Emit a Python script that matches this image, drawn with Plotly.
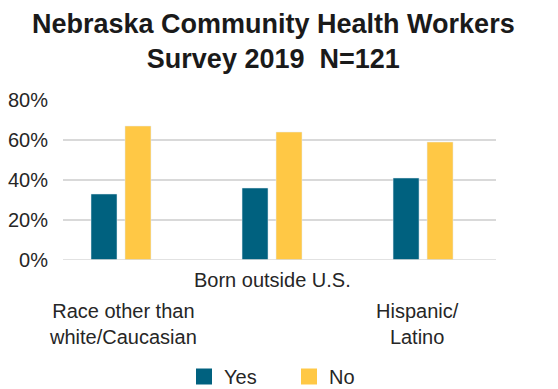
import plotly.graph_objects as go

categories = ["Race other than white/Caucasian", "Born outside U.S.", "Hispanic/ Latino"]
category_labels = ["Race other than<br>white/Caucasian", "Born outside U.S.", "Hispanic/<br>Latino"]
yes_values = [33, 36, 41]
no_values = [67, 64, 59]
y_ticks = [0, 20, 40, 60, 80]
y_tick_labels = ["0%", "20%", "40%", "60%", "80%"]
title_text = "<b>Nebraska Community Health Workers<br>Survey 2019  N=121</b>"

YES_COLOR = "#00617F"
NO_COLOR = "#FFC845"
FONT = "Liberation Sans, Arial, sans-serif"
TXT = "#262626"

fig = go.Figure()
fig.add_trace(go.Bar(x=categories, y=yes_values, name="Yes", marker_color=YES_COLOR,
                     showlegend=False))
fig.add_trace(go.Bar(x=categories, y=no_values, name="No", marker_color=NO_COLOR,
                     showlegend=False))
# legend proxies
fig.add_trace(go.Scatter(x=[None], y=[None], mode="markers", name="Yes",
                         marker=dict(symbol="square", size=16, color=YES_COLOR)))
fig.add_trace(go.Scatter(x=[None], y=[None], mode="markers", name="No",
                         marker=dict(symbol="square", size=16, color=NO_COLOR)))

annotations = []
ypos = [-0.40, -0.125, -0.40]
xshift = [2, 0, -6]
for i, lab in enumerate(category_labels):
    annotations.append(dict(x=categories[i], y=ypos[i], xref="x", yref="paper",
                            text=lab, showarrow=False, yanchor="middle",
                            xshift=xshift[i],
                            font=dict(family=FONT, size=20, color=TXT)))
annotations.append(dict(x=(273 - 63) / 433, y=1 + (100 - 7) / 160, xref="paper", yref="paper",
                        text=title_text, showarrow=False, xanchor="center", yanchor="top",
                        font=dict(family=FONT, size=27, color="#1a1a1a")))

fig.update_layout(
    width=558, height=389,
    margin=dict(l=63, r=62, t=100, b=129, autoexpand=False),
    paper_bgcolor="white", plot_bgcolor="white",
    font=dict(family=FONT, size=20, color=TXT),
    barmode="group", bargap=0.55, bargroupgap=0.235,
    xaxis=dict(range=[-0.384, 2.483], showticklabels=False, showgrid=False,
               zeroline=False, showline=False, ticks="", automargin=False),
    yaxis=dict(range=[0, 80], tickvals=y_ticks, ticktext=y_tick_labels,
               showgrid=True, gridcolor="#d9d9d9", gridwidth=1.5, automargin=False,
               zeroline=False, showline=False, ticks="", ticklabelstandoff=14,
               tickfont=dict(family=FONT, size=20, color=TXT)),
    legend=dict(orientation="h", x=184 / 558, xanchor="left", xref="container",
                y=(389 - 357) / 389, yanchor="top", yref="container",
                font=dict(family=FONT, size=20, color=TXT),
                entrywidth=60, itemsizing="trace"),
    annotations=annotations,
)
fig.add_shape(type="line", xref="paper", yref="y", x0=0, x1=1, y0=0, y1=0,
              line=dict(color="#d9d9d9", width=1.5))
fig.write_html("out.html")
